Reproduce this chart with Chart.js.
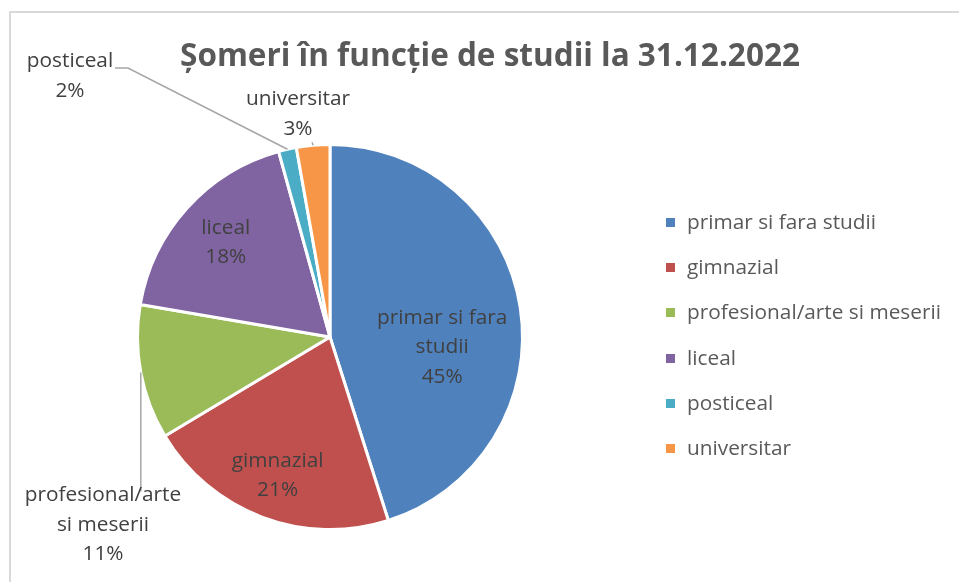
<!DOCTYPE html>
<html>
<head>
<meta charset="utf-8">
<script src="https://cdn.jsdelivr.net/npm/chart.js@4.4.1/dist/chart.umd.min.js"></script>
<style>
  html, body { margin: 0; padding: 0; background: #fff; }
  #wrap { position: relative; width: 959px; height: 582px; overflow: hidden; font-family: "Open Sans", sans-serif; }
  #frame { position: absolute; left: 9px; top: 11px; width: 1000px; height: 700px; border-left: 2px solid #d9d9d9; border-top: 2px solid #d9d9d9; }
  #title { position: absolute; left: 0; width: 980px; top: 32px; text-align: center; font-weight: bold; font-size: 31.5px; color: #595959; white-space: nowrap; }
  #chartPie { position: absolute; left: 0; top: 0; }
  #legend { position: absolute; left: 666px; top: 199px; margin: 0; padding: 0; list-style: none; }
  #legend li { height: 45.2px; line-height: 45.2px; font-size: 20.8px; color: #595959; white-space: nowrap; }
  #legend .sw { display: inline-block; width: 9px; height: 9px; margin-right: 12px; vertical-align: 2px; }
</style>
</head>
<body>
<div id="wrap">
  <div id="frame"></div>
  <canvas id="chartPie" width="959" height="582"></canvas>
  <div id="title">Șomeri în funcție de studii la 31.12.2022</div>
  <ul id="legend"></ul>
</div>
<script>
'use strict';

// ── 데이터 ──────────────────────────────────────────────────────
var categories = ['primar si fara studii', 'gimnazial', 'profesional/arte si meserii', 'liceal', 'posticeal', 'universitar'];
var shares     = [45.1, 21.3, 11.3, 18.0, 1.5, 2.8];
var labelLines = [['primar si fara', 'studii'], ['gimnazial'], ['profesional/arte', 'si meserii'], ['liceal'], ['posticeal'], ['universitar']];
var colors     = ['#4f81bd', '#c0504d', '#9bbb59', '#8064a2', '#4bacc6', '#f79646'];

// ── 라벨 배치 (위치 / 스타일) ───────────────────────────────────
var labelPlacement = [
  { inside: true, angleShift: 14, r: 0.585 },
  { inside: true, angleShift: 0,  r: 0.77 },
  { inside: false, dx: -227, dy: 188, leader: [[0, 0], [0, 119]] },
  { inside: true, angleShift: 0,  r: 0.73 },
  { inside: false, dx: -260, dy: -261, leader: 'elbow', elbow: [-202, -269], end: [-215, -269] },
  { inside: false, dx: -32,  dy: -223, leader: 'tick' }
];

function pct(v) {
  var total = shares.reduce(function (s, x) { return s + x; }, 0);
  return Math.round(v / total * 100) + '%';
}

var pieLabelsPlugin = {
  id: 'pieLabels',
  afterDatasetsDraw: function (chart) {
    var ctx = chart.ctx;
    var arcs = chart.getDatasetMeta(0).data;
    ctx.save();
    ctx.font = '20.8px "Open Sans", sans-serif';
    ctx.textAlign = 'center';
    ctx.textBaseline = 'middle';
    for (var i = 0; i < arcs.length; i++) {
      var a = arcs[i];
      var p = labelPlacement[i];
      var mid = (a.startAngle + a.endAngle) / 2;
      var lines = labelLines[i].concat([pct(shares[i])]);
      var cx, cy;
      if (p.inside) {
        var ang = mid + p.angleShift * Math.PI / 180;
        cx = a.x + Math.cos(ang) * a.outerRadius * p.r;
        cy = a.y + Math.sin(ang) * a.outerRadius * p.r;
      } else {
        cx = a.x + p.dx;
        cy = a.y + p.dy;
        var ex = a.x + Math.cos(mid) * a.outerRadius;
        var ey = a.y + Math.sin(mid) * a.outerRadius;
        ctx.strokeStyle = '#a6a6a6';
        ctx.lineWidth = 1.5;
        ctx.beginPath();
        if (p.leader === 'elbow') {
          ctx.moveTo(ex, ey);
          ctx.lineTo(a.x + p.elbow[0], a.y + p.elbow[1]);
          ctx.lineTo(a.x + p.end[0], a.y + p.end[1]);
        } else if (p.leader === 'tick') {
          ctx.moveTo(ex, ey);
          ctx.lineTo(ex - 1, ey - 3);
        } else {
          ctx.moveTo(ex, ey);
          ctx.lineTo(ex + p.leader[1][0], ey + p.leader[1][1]);
        }
        ctx.stroke();
      }
      ctx.fillStyle = '#404040';
      for (var j = 0; j < lines.length; j++) {
        ctx.fillText(lines[j], cx, cy + (j - (lines.length - 1) / 2) * 29.5);
      }
    }
    ctx.restore();
  }
};

new Chart(document.getElementById('chartPie').getContext('2d'), {
  type: 'pie',
  data: {
    labels: categories,
    datasets: [{
      data: shares,
      backgroundColor: colors,
      borderColor: '#ffffff',
      borderWidth: 3
    }]
  },
  options: {
    responsive: false,
    animation: false,
    layout: { padding: { left: 136, right: 435, top: 143, bottom: 51 } },
    plugins: {
      legend: { display: false },
      tooltip: { enabled: false },
      title: { display: false }
    }
  },
  plugins: [pieLabelsPlugin]
});

var legendEl = document.getElementById('legend');
for (var k = 0; k < categories.length; k++) {
  var li = document.createElement('li');
  li.innerHTML = '<span class="sw" style="background:' + colors[k] + '"></span>' + categories[k];
  legendEl.appendChild(li);
}
</script>
</body>
</html>
